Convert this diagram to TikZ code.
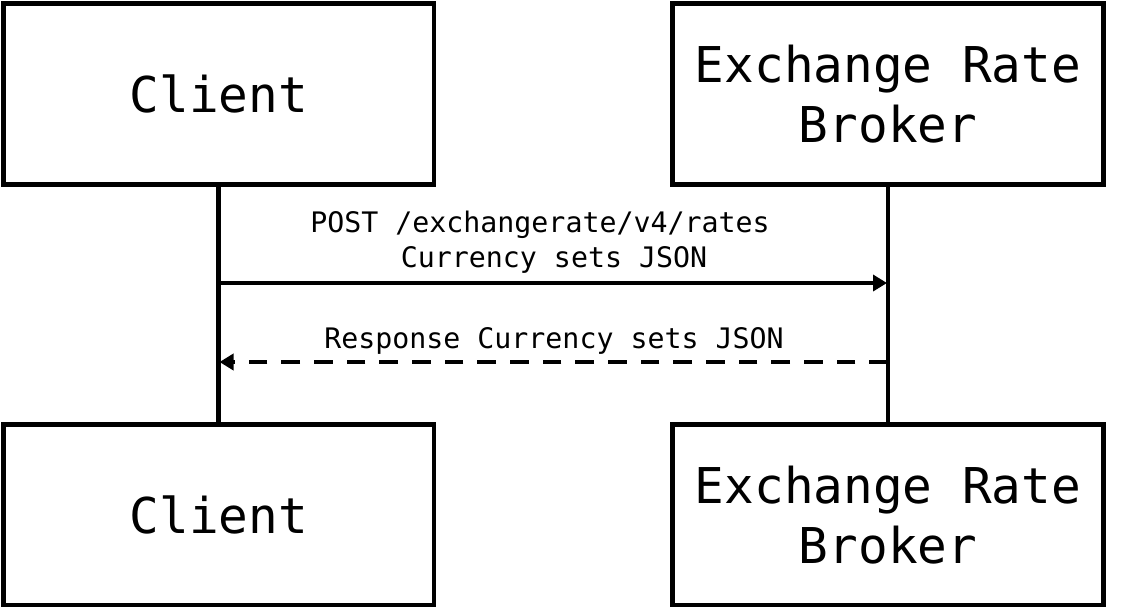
\documentclass[tikz,border=0pt]{standalone}
\usepackage{fontspec}
\setmonofont{DejaVu Sans Mono}
\usetikzlibrary{arrows.meta}

\begin{document}
\begin{tikzpicture}[x=0.75pt, y=-0.75pt,
    actor/.style={draw, line width=3.6pt, minimum width=323pt, minimum height=135.5pt,
        inner sep=0pt, align=center, font=\ttfamily\fontsize{37}{45}\selectfont},
    msg/.style={font=\ttfamily\fontsize{21.2}{25}\selectfont, anchor=base},
    lifeline/.style={line width=3.5pt},
    call/.style={line width=3.4pt, -{Triangle[length=10.5pt,width=12pt]}},
    reply/.style={call, dash pattern=on 14pt off 10.5pt}]
    \useasboundingbox (0,0) rectangle (1141,608);

    % Participants (top)
    \node[actor] (client) at (218.75,94) {Client};
    \node[actor] (broker) at (888,94) {Exchange Rate\\Broker};

    % Participants (bottom)
    \node[actor] (clientb) at (218.75,514.75) {Client};
    \node[actor] (brokerb) at (888,514.75) {Exchange Rate\\Broker};

    % Lifelines
    \draw[lifeline] (client) -- (clientb);
    \draw[lifeline] (broker) -- (brokerb);

    % Request
    \coordinate (reqfrom) at (218.75,283);
    \coordinate (reqto) at (887,283);
    \draw[call] (reqfrom) -- (reqto);
    \node[msg] (reqtxt) at (540,232) {POST /exchangerate/v4/rates};
    \node[msg] (reqtxtb) at (554,267) {Currency sets JSON};

    % Response
    \coordinate (repfrom) at (888,362);
    \coordinate (repto) at (219.5,362);
    \draw[reply] (repfrom) -- (repto);
    \node[msg] (reptxt) at (554,348) {Response Currency sets JSON};
\end{tikzpicture}
\end{document}
